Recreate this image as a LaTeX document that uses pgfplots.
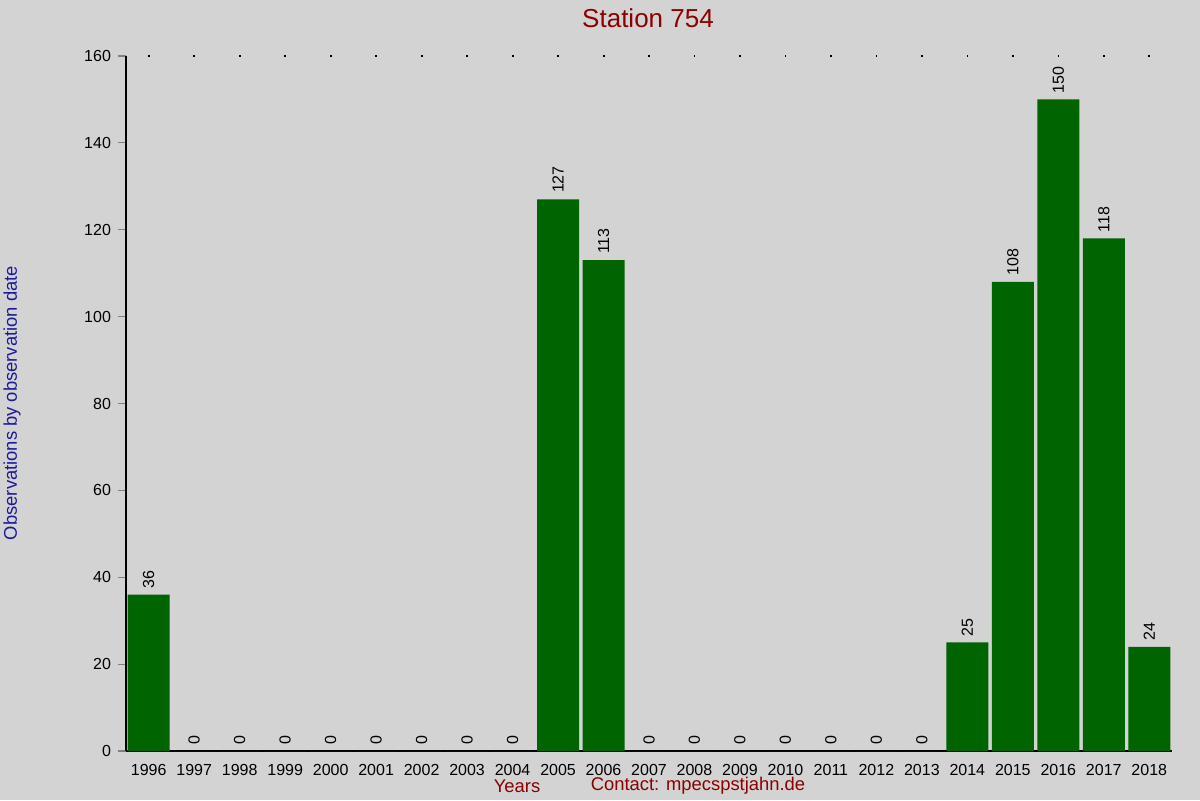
\documentclass[border=0pt]{standalone}
\usepackage{pgfplots}
\pgfplotsset{compat=1.18}
\usepackage{fontspec}
\setmainfont{Liberation Sans}
\definecolor{bg}{HTML}{D3D3D3}
\definecolor{bargreen}{HTML}{006400}
\definecolor{titlered}{HTML}{8B0000}
\definecolor{labblue}{HTML}{1A1A9A}
\begin{document}
\begin{tikzpicture}
\fill[bg] (0,0) rectangle (600pt,400pt);
\useasboundingbox (0,0) rectangle (600pt,400pt);
\begin{axis}[
  at={(63pt,24.5pt)}, anchor=south west,
  scale only axis,
  width=523pt, height=347.5pt,
  xmin=-0.5, xmax=22.5,
  ymin=0, ymax=160,
  axis x line=bottom, axis y line=left,
  axis line style={-, line width=0.6pt},
  xtick=data,
  xticklabels={1996,1997,1998,1999,2000,2001,2002,2003,2004,2005,2006,2007,2008,2009,2010,2011,2012,2013,2014,2015,2016,2017,2018},
  x tick style={draw=none},
  ytick={0,20,...,160},
  y tick style={line width=0.6pt},
  tick align=outside,
  major tick length=4pt,
  tick label style={font=\fontsize{8}{9}\selectfont},
  /pgf/number format/assume math mode=true,
  xticklabel style={yshift=1pt},
  clip=false,
]
\addplot[ybar, bar width=21pt, fill=bargreen, draw=none,
  nodes near coords,
  every node near coord/.append style={rotate=90, anchor=west, font=\fontsize{8}{9}\selectfont, black, inner sep=3pt}]
  coordinates {(0,36) (1,0) (2,0) (3,0) (4,0) (5,0) (6,0) (7,0) (8,0) (9,127) (10,113) (11,0) (12,0) (13,0) (14,0) (15,0) (16,0) (17,0) (18,25) (19,108) (20,150) (21,118) (22,24)};
\addplot[only marks, mark=square*, mark size=0.2pt, black]
  coordinates {(0,160) (1,160) (2,160) (3,160) (4,160) (5,160) (6,160) (7,160) (8,160) (9,160) (10,160) (11,160) (12,160) (13,160) (14,160) (15,160) (16,160) (17,160) (18,160) (19,160) (20,160) (21,160) (22,160)};
\end{axis}
\node[titlered, font=\fontsize{13}{15}\selectfont] at (324pt,391pt) {Station 754};
\node[labblue, rotate=90, font=\fontsize{9.2}{11}\selectfont] at (6pt,198.5pt) {Observations by observation date};
\node[titlered, font=\fontsize{9.2}{11}\selectfont] at (258.5pt,7pt) {Years};
\node[titlered, font=\fontsize{9.2}{11}\selectfont] at (349pt,7pt) {Contact: mpecspstjahn.de};
\end{tikzpicture}
\end{document}
